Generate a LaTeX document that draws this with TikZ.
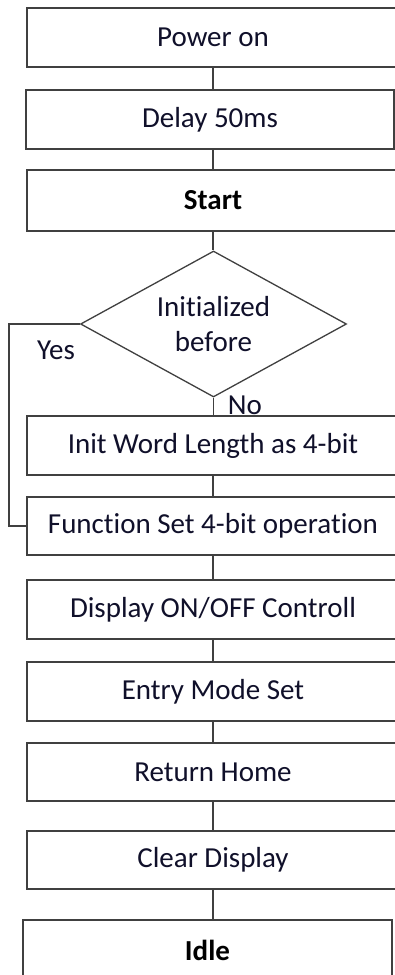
\documentclass[tikz,border=0pt]{standalone}
\usepackage{fontspec}
\setmainfont[Ligatures=NoCommon]{Carlito}
\usetikzlibrary{shapes.geometric}
\definecolor{linegray}{HTML}{404040}
\definecolor{inkdark}{HTML}{10102A}
\tikzset{
  stepbox/.style={draw=linegray, line width=1.3pt, fill=white, text=inkdark,
    minimum width=372pt, inner sep=0pt, font=\fontsize{29}{35}\selectfont},
  boldbox/.style={stepbox, font=\fontsize{29}{35}\selectfont\bfseries, text=black},
  decision/.style={draw=linegray, line width=1.3pt, shape=diamond, inner sep=0pt,
    minimum width=266pt, minimum height=146pt, shape aspect=1.82, text=inkdark,
    align=center, font=\fontsize{29}{35}\selectfont},
  flow/.style={draw=linegray, line width=1.3pt},
  tag/.style={text=inkdark, inner sep=0pt, font=\fontsize{29}{35}\selectfont}
}
\begin{document}
\begin{tikzpicture}[x=1pt, y=-1pt]
  \path[use as bounding box, clip] (0,0) rectangle (395,975);
  \fill[white] (0,0) rectangle (395,975);

  % process steps, top to bottom
  \node[stepbox, minimum height=59pt] (power) at (213,37.5) {Power on};
  \node[stepbox, minimum height=59pt, minimum width=368pt] (delay) at (210,119.5) {Delay 50ms};
  \node[boldbox, minimum height=61pt] (start) at (213,200.5) {Start};
  \node[decision] (init) at (213.5,324) {Initialized\\before};
  \node[stepbox, minimum height=59pt] (wordlen) at (213,445.5) {Init Word Length as 4-bit};
  \node[stepbox, minimum height=58pt] (funcset) at (213,526) {Function Set 4-bit operation};
  \node[stepbox, minimum height=59pt] (dispctl) at (213,609.5) {Display ON/OFF Controll};
  \node[stepbox, minimum height=59pt] (entry) at (213,691.5) {Entry Mode Set};
  \node[stepbox, minimum height=58pt] (home) at (213,772) {Return Home};
  \node[stepbox, minimum height=58pt] (clear) at (213,860) {Clear Display};
  \node[boldbox, minimum height=60pt, minimum width=369pt] (idle) at (207.5,950) {Idle};

  % connectors
  \draw[flow] (power.south) -- (power.south |- delay.north);
  \draw[flow] (power.south |- delay.south) -- (start.north);
  \draw[flow] (start.south) -- (start.south |- init.north);
  \draw[flow] (init.south) -- (wordlen.north -| init.south);
  \draw[flow] (wordlen.south) -- (funcset.north);
  \draw[flow] (funcset.south) -- (dispctl.north);
  \draw[flow] (dispctl.south) -- (entry.north);
  \draw[flow] (entry.south) -- (home.north);
  \draw[flow] (home.south) -- (clear.north);
  \draw[flow] (clear.south) -- (clear.south |- idle.north);

  % "Yes" branch skips the word-length step
  \coordinate (yesbend) at (9,324);
  \draw[flow] (init.west) -- (yesbend) |- (funcset.west);

  \node[tag] (yes) at (56,350) {Yes};
  \node[tag] (no) at (245,405) {No};
\end{tikzpicture}
\end{document}
